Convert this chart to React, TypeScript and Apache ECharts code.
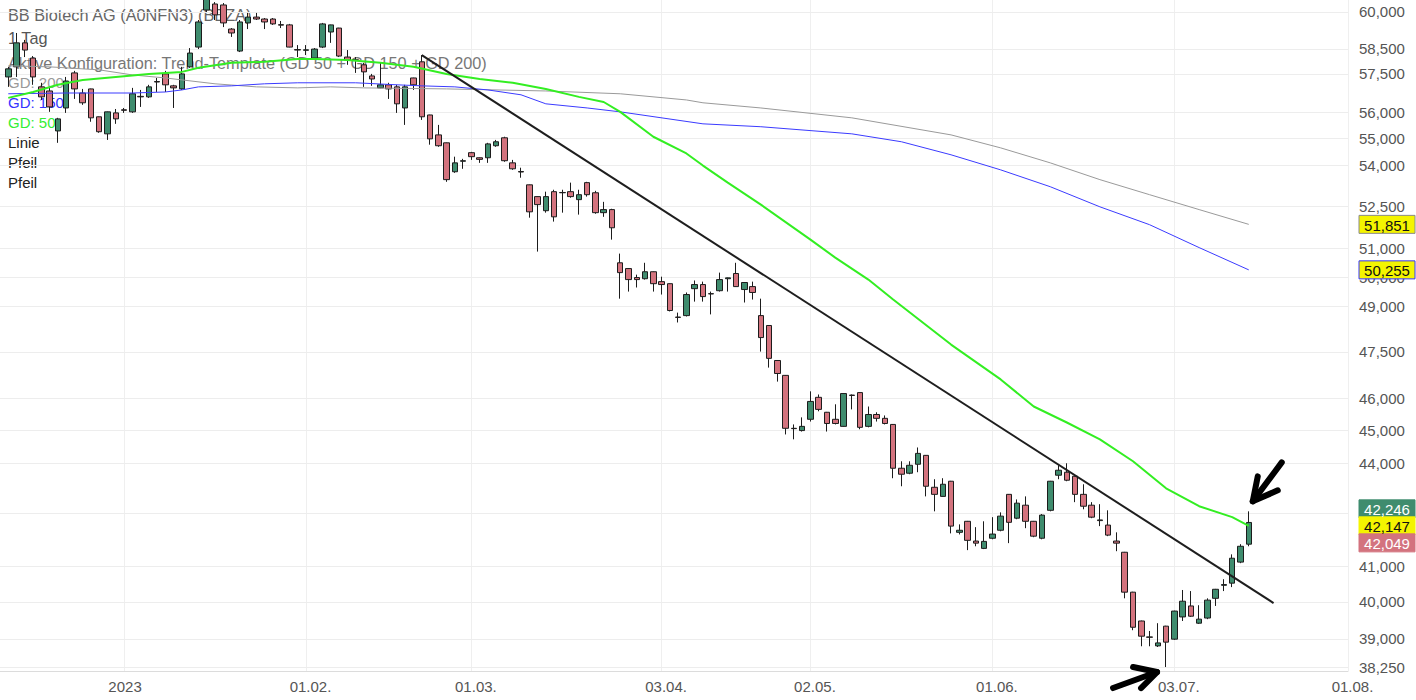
import React, { useEffect, useRef } from "react";
import * as echarts from "echarts";

const FONT = '"Liberation Sans", Arial, Helvetica, sans-serif';

// trading days shown on the x axis
const monthDays: Array<[string, number[]]> = [
  ["2022-12", [9, 12, 13, 14, 15, 16, 19, 20, 21, 22, 23, 27, 28, 29, 30]],
  ["2023-01", [2, 3, 4, 5, 6, 9, 10, 11, 12, 13, 16, 17, 18, 19, 20, 23, 24, 25, 26, 27, 30, 31]],
  ["2023-02", [1, 2, 3, 6, 7, 8, 9, 10, 13, 14, 15, 16, 17, 20, 21, 22, 23, 24, 27, 28]],
  ["2023-03", [1, 2, 3, 6, 7, 8, 9, 10, 13, 14, 15, 16, 17, 20, 21, 22, 23, 24, 27, 28, 29, 30, 31]],
  ["2023-04", [3, 4, 5, 6, 11, 12, 13, 14, 17, 18, 19, 20, 21, 24, 25, 26, 27, 28]],
  ["2023-05", [2, 3, 4, 5, 8, 9, 10, 11, 12, 15, 16, 17, 18, 19, 22, 23, 24, 25, 26, 29, 30, 31]],
  ["2023-06", [1, 2, 5, 6, 7, 8, 9, 12, 13, 14, 15, 16, 19, 20, 21, 22, 23, 26, 27, 28, 29, 30]],
  ["2023-07", [3, 4, 5, 6, 7, 10, 11, 12, 13, 14, 17, 18, 19, 20, 21, 24, 25, 26, 27, 28, 31]],
  ["2023-08", [1]],
];
const categories: string[] = monthDays.flatMap(([m, ds]) =>
  ds.map((d) => `${m}-${d < 10 ? "0" + d : d}`)
);

// candles from 2022-12-12 to 2023-07-14 (one per trading day)
const firstCandle = "2022-12-12";
const open = [
  57380, 57780, 58740, 58130, 56990, 56830, 55290, 56170, 57540, 56750, 56910, 55830, 55180, 55980, 56100, 56020, 56620, 56600, 57200, 57500,
  57030, 56910, 57780, 58570, 60080, 60330, 60290, 59300, 58410, 59550, 59790, 59710, 59710, 59480, 59470, 58470, 58440, 58130, 58570, 59180,
  59340, 58170, 58060, 57860, 57420, 56950, 57070, 56990, 56170, 57340, 57980, 55900, 55140, 54840, 53760, 54150, 54470, 54280, 54280, 54730,
  55030, 54090, 53770, 53280, 52850, 52340, 53030, 52990, 53030, 52740, 53360, 52990, 52270, 52380, 50500, 50300, 49990, 49950, 50190, 49850,
  49780, 48650, 48700, 49610, 49750, 49440, 49540, 49950, 50130, 49580, 49680, 48700, 48370, 47220, 46740, 45070, 45000, 45350, 46040, 45570,
  45350, 45130, 46110, 46190, 45130, 45500, 45380, 45190, 43850, 43700, 43970, 44240, 43280, 43010, 43460, 41960, 42280, 41710, 41500, 41790,
  42020, 43070, 42370, 42750, 42280, 41790, 42600, 43640, 43730, 43610, 43070, 42750, 42320, 42170, 41710, 41390, 40270, 39480, 39050, 38810,
  39340, 38990, 39590, 39890, 39420, 39560, 40100, 40460, 40520, 41110, 41620,
];
const close = [
  57700, 58740, 58450, 57380, 56600, 56210, 55750, 57220, 56910, 56370, 55790, 55260, 56020, 55750, 56080, 56720, 56600, 56990, 57180, 57070,
  56950, 57500, 58330, 59590, 60650, 59880, 59550, 59140, 59590, 59790, 59710, 59590, 59510, 59460, 58570, 58450, 58460, 58490, 59510, 59470,
  58210, 58050, 58040, 57580, 57300, 57070, 56910, 56330, 56990, 57070, 55830, 54990, 54730, 53470, 54090, 54170, 54320, 54220, 54800, 54880,
  54170, 53870, 53750, 52300, 52560, 52850, 52120, 53000, 52850, 52920, 52920, 52270, 52380, 51730, 50160, 49920, 49920, 50190, 49780, 49750,
  48870, 48640, 49410, 49750, 49340, 49430, 49920, 49980, 49680, 49820, 49480, 47970, 47290, 46800, 45070, 45060, 45130, 45910, 45660, 45220,
  45220, 46160, 46100, 45100, 45500, 45380, 45220, 43850, 43670, 43940, 44300, 43310, 43070, 43370, 42140, 42020, 41730, 41650, 41700, 41910,
  42430, 42250, 42810, 42280, 41850, 42460, 43460, 43790, 43490, 43070, 42720, 42400, 42300, 41880, 41650, 40270, 39310, 39070, 39040, 38890,
  38910, 39750, 40020, 39610, 39530, 40050, 40350, 40480, 41220, 41560, 42246,
];
const low = [
  56990, 57380, 58170, 57070, 56480, 56020, 54840, 55980, 56520, 56290, 55640, 55220, 54950, 55560, 55980, 55980, 56210, 56560, 56790, 56790,
  56170, 56870, 57740, 58490, 60000, 59670, 59380, 58980, 58370, 59300, 59670, 59300, 59470, 59340, 58560, 58170, 58250, 58050, 58530, 58740,
  58170, 57860, 57540, 56990, 57030, 56940, 56520, 55980, 55520, 56870, 55710, 54770, 54690, 53390, 53720, 53870, 54200, 54090, 54090, 54690,
  54130, 53830, 53540, 52090, 50890, 52270, 51950, 52270, 52810, 52200, 52850, 52230, 52120, 51310, 49270, 49510, 49650, 49920, 49510, 49410,
  48840, 48470, 48670, 49170, 49170, 48740, 49510, 49510, 49670, 49140, 49240, 47510, 46990, 46540, 44880, 44730, 44970, 45280, 45600, 44970,
  45190, 45120, 45660, 45040, 45100, 45280, 45190, 43550, 43310, 43670, 43730, 43010, 42570, 43000, 41930, 41900, 41450, 41560, 41480, 41760,
  41990, 41650, 42340, 42080, 41820, 41760, 42570, 43520, 43460, 42840, 42630, 42370, 42140, 41850, 41420, 40100, 39230, 38800, 38800, 38780,
  38250, 38970, 39480, 39590, 39400, 39530, 39890, 40300, 40410, 41080, 41560,
];
const high = [
  57780, 59140, 58860, 58210, 57150, 56950, 55790, 57380, 57620, 56910, 56920, 55840, 56030, 56130, 56170, 56950, 56870, 57070, 57340, 57620,
  57070, 57780, 58530, 59670, 60900, 60410, 60370, 59340, 59670, 59960, 59960, 59750, 59750, 59630, 59510, 58650, 58650, 58530, 59550, 59480,
  59350, 58450, 58170, 57940, 57500, 57940, 57150, 57070, 57070, 57350, 58250, 55910, 55520, 54850, 54320, 54240, 54500, 54290, 54840, 54950,
  55070, 54200, 53910, 53290, 52860, 53030, 53100, 53100, 53360, 53100, 53390, 53060, 52660, 52410, 50820, 50310, 50090, 50500, 50200, 50020,
  49790, 48800, 49480, 49890, 49850, 49510, 50160, 49990, 50500, 49830, 49850, 49270, 48380, 47230, 46750, 45190, 45410, 46230, 46130, 45580,
  45820, 46170, 46130, 46200, 45750, 45570, 45470, 45200, 44060, 44060, 44480, 44250, 43520, 43550, 43470, 42190, 42290, 42110, 42280, 42400,
  42540, 43080, 42920, 43010, 42290, 42490, 43470, 43940, 44000, 43620, 43370, 42840, 42780, 42600, 41960, 41400, 40280, 39490, 39210, 39420,
  39350, 39760, 40330, 40300, 39910, 40100, 40360, 40630, 41330, 41620, 42570,
];

// moving averages
const gd50: Array<[string, number]> = [
  ["2022-12-12", 56560], ["2022-12-15", 56790], ["2022-12-20", 57070], ["2022-12-23", 57260], ["2022-12-30", 57380],
  ["2023-01-05", 57500], ["2023-01-11", 57580], ["2023-01-13", 57740], ["2023-01-19", 57940], ["2023-01-25", 57980],
  ["2023-01-31", 58090], ["2023-02-02", 58090], ["2023-02-08", 58050], ["2023-02-14", 57940], ["2023-02-20", 57780],
  ["2023-02-24", 57500], ["2023-03-02", 57300], ["2023-03-08", 57150], ["2023-03-14", 56910], ["2023-03-20", 56600],
  ["2023-03-23", 56400], ["2023-03-27", 56020], ["2023-03-31", 55070], ["2023-04-06", 54440], ["2023-04-12", 53990],
  ["2023-04-17", 53360], ["2023-04-21", 52560], ["2023-05-02", 51310], ["2023-05-05", 50680], ["2023-05-11", 49920],
  ["2023-05-16", 49240], ["2023-05-25", 47740], ["2023-06-02", 46610], ["2023-06-08", 45750], ["2023-06-14", 45250],
  ["2023-06-20", 44730], ["2023-06-26", 44060], ["2023-06-30", 43250], ["2023-07-06", 42720], ["2023-07-12", 42400],
  ["2023-07-14", 42147],
];
const gd150: Array<[string, number]> = [
  ["2022-12-12", 56720], ["2022-12-21", 56750], ["2023-01-03", 56750], ["2023-01-09", 56790], ["2023-01-11", 56870],
  ["2023-01-13", 56990], ["2023-01-19", 57030], ["2023-01-25", 57110], ["2023-01-31", 57150], ["2023-02-09", 57150],
  ["2023-02-16", 57070], ["2023-02-21", 57030], ["2023-02-27", 56990], ["2023-03-03", 56870], ["2023-03-09", 56680],
  ["2023-03-14", 56330], ["2023-03-21", 56170], ["2023-03-27", 56020], ["2023-04-12", 55560], ["2023-04-21", 55450],
  ["2023-05-09", 55180], ["2023-05-17", 54880], ["2023-05-25", 54390], ["2023-06-02", 53830], ["2023-06-12", 53210],
  ["2023-06-20", 52480], ["2023-06-28", 51840], ["2023-07-06", 51030], ["2023-07-14", 50255],
];
const gd200: Array<[string, number]> = [
  ["2022-12-12", 57820], ["2022-12-19", 57780], ["2022-12-28", 57660], ["2023-01-03", 57460], ["2023-01-09", 57340],
  ["2023-01-17", 57110], ["2023-01-24", 56990], ["2023-01-31", 56950], ["2023-02-06", 56990], ["2023-02-10", 56950],
  ["2023-02-24", 56910], ["2023-03-14", 56830], ["2023-03-27", 56720], ["2023-04-06", 56480], ["2023-04-12", 56370],
  ["2023-04-21", 56170], ["2023-05-09", 55790], ["2023-05-25", 55140], ["2023-06-02", 54650], ["2023-06-12", 54090],
  ["2023-06-20", 53470], ["2023-06-28", 52920], ["2023-07-06", 52380], ["2023-07-14", 51851],
];

const xLabelDates = ["2023-01-02", "2023-02-01", "2023-03-01", "2023-04-03", "2023-05-02", "2023-06-01", "2023-07-03", "2023-08-01"];
const yTicks = [38250, 39000, 40000, 41000, 44000, 45000, 46000, 47500, 49000, 50000, 51000, 52500, 54000, 55000, 56000, 57500, 58500, 60000];
const yGridOnly = [42500];
const yMin = 38146;
const yMax = 60496;

const trendStart: [string, number] = ["2023-02-21", 58250];
const trendEnd: [string, number] = ["2023-07-19", 39970];

const tagGD200 = 51851;
const tagGD150 = 50255;
const tagLast = 42246;
const tagGD50 = 42147;
const tagPrev = 42049;

const legendTexts = [
  "BB Biotech AG (A0NFN3) (BBZA)",
  "1 Tag",
  "Aktive Konfiguration: Trend-Template (GD 50 + GD 150 + GD 200)",
  "GD: 200",
  "GD: 150",
  "GD: 50",
  "Linie",
  "Pfeil",
  "Pfeil",
];
const legendColors = ["#666", "#555", "#777", "#999", "#3434ff", "#33ee33", "#222", "#222", "#222"];
const legendY = [15, 38, 63, 82, 102, 122, 142, 162, 182];
const legendSize = [16.3, 16.3, 16.3, 15, 15, 15, 15, 15, 15];

const fmt = (v: number) => v.toLocaleString("en-US");

export default function App() {
  const ref = useRef<HTMLDivElement>(null);

  useEffect(() => {
    const chart = echarts.init(ref.current!, null, { renderer: "svg" });
    const startIdx = categories.indexOf(firstCandle);
    const candles = open.map((o, k) => [categories[startIdx + k], o, close[k], low[k], high[k]]);
    const labelSet = new Set(xLabelDates.map((d) => categories.indexOf(d)));

    chart.setOption({
      animation: false,
      backgroundColor: "#fff",
      grid: { left: 0, right: 68, top: 0, bottom: 29, containLabel: false, outerBoundsMode: "none" },
      xAxis: {
        type: "category",
        data: categories,
        boundaryGap: false,
        axisLine: { show: true, lineStyle: { color: "#dcdcdc" } },
        axisTick: { show: false },
        axisLabel: {
          interval: (i: number) => labelSet.has(i),
          formatter: (v: string) => (v === "2023-01-02" ? "{y|2023}" : `{d|${v.slice(8, 10)}.${v.slice(5, 7)}.}`),
          color: "#555",
          fontSize: 15,
          fontFamily: FONT,
          margin: 8,
          rich: {
            y: { color: "#555", fontSize: 15, fontFamily: FONT, padding: [0, 0, 0, 2] },
            d: { color: "#555", fontSize: 15, fontFamily: FONT, padding: [0, 0, 0, 9] },
          },
        },
        splitLine: {
          show: true,
          interval: (i: number) => labelSet.has(i),
          lineStyle: { color: "#efefef", width: 1 },
        },
      },
      yAxis: {
        type: "log",
        logBase: 10,
        min: yMin,
        max: yMax,
        position: "right",
        axisLine: { show: false },
        axisTick: { show: false },
        axisLabel: { show: false },
        splitLine: { show: false },
      },
      series: [
        {
          type: "line",
          name: "grid",
          data: [],
          z: 1,
          silent: true,
          markLine: {
            z: 1,
            silent: true,
            symbol: ["none", "none"],
            animation: false,
            lineStyle: { color: "#ededed", width: 1, type: "solid" },
            label: {
              show: true,
              position: "end",
              distance: 11,
              formatter: (p: any) => fmt(Number(p.value)),
              color: "#555",
              fontSize: 15,
              fontFamily: FONT,
            },
            emphasis: { disabled: true },
            data: [
              ...yTicks.map((v) => ({ yAxis: v })),
              ...yGridOnly.map((v) => ({ yAxis: v, label: { show: false } })),
            ],
          },
        },
        {
          type: "candlestick",
          data: candles,
          encode: { x: 0, y: [1, 2, 3, 4] },
          barWidth: 6,
          z: 2,
          silent: true,
          clip: true,
          itemStyle: {
            color: "#3f8c6e",
            color0: "#d3737e",
            borderColor: "#1c1c1c",
            borderColor0: "#1c1c1c",
            borderWidth: 1,
          },
          markLine: {
            silent: true,
            symbol: ["none", "none"],
            animation: false,
            label: { show: false },
            lineStyle: { color: "#1e1e1e", width: 2, type: "solid" },
            emphasis: { disabled: true },
            data: [[{ coord: trendStart }, { coord: trendEnd }]],
          },
        },
        {
          type: "line",
          name: "GD 200",
          data: gd200,
          showSymbol: false,
          symbol: "none",
          z: 3,
          silent: true,
          lineStyle: { color: "#9a9a9a", width: 1 },
        },
        {
          type: "line",
          name: "GD 150",
          data: gd150,
          showSymbol: false,
          symbol: "none",
          z: 3,
          silent: true,
          lineStyle: { color: "#3b3bff", width: 1 },
        },
        {
          type: "line",
          name: "GD 50",
          data: gd50,
          showSymbol: false,
          symbol: "none",
          z: 3,
          silent: true,
          lineStyle: { color: "#33ee22", width: 2 },
        },
      ],
    });

    const py = (v: number) => chart.convertToPixel({ yAxisIndex: 0 }, v) as number;
    const pt = (d: string, v: number) => chart.convertToPixel({ gridIndex: 0 }, [d, v]) as number[];

    const tag = (y: number, text: string, fill: string, stroke: string, color: string) => ({
      type: "group",
      x: 1359,
      y,
      z: 20,
      children: [
        { type: "rect", z: 20, shape: { x: 0, y: -9, width: 56, height: 18 }, style: { fill, stroke, lineWidth: 1 } },
        {
          type: "text",
          z: 21,
          x: 28,
          y: 1,
          style: { text, fill: color, font: `15px ${FONT}`, align: "center", verticalAlign: "middle", textAlign: "center", textVerticalAlign: "middle" },
        },
      ],
    });

    const yGD50 = py(tagGD50);
    const a1 = pt("2023-07-14", 42570);
    const a2 = pt("2023-06-30", 38250);
    const arrowStyle = { stroke: "#000", lineWidth: 6, lineCap: "round", lineJoin: "round", fill: null };
    const rel = (a: number[], dx: number, dy: number) => [a[0] + dx, a[1] + dy];

    const legend = legendTexts.map((t, i) => ({
      type: "text",
      x: 8,
      y: legendY[i],
      z: 0,
      silent: true,
      style: {
        text: t,
        fill: legendColors[i],
        font: `${legendSize[i]}px ${FONT}`,
        verticalAlign: "middle",
        textVerticalAlign: "middle",
      },
    }));

    chart.setOption({
      graphic: [
        ...legend,
        tag(py(tagGD200), fmt(tagGD200), "#f4f400", "#8a8a8a", "#111"),
        tag(py(tagGD150), fmt(tagGD150), "#f4f400", "#3434ff", "#111"),
        tag(yGD50 - 17, fmt(tagLast), "#3f8c6e", "#3f8c6e", "#fff"),
        tag(yGD50, fmt(tagGD50), "#f4f400", "#f4f400", "#111"),
        tag(yGD50 + 17, fmt(tagPrev), "#d3737e", "#d3737e", "#fff"),
        { type: "polyline", z: 30, shape: { points: [rel(a1, 33, -49), rel(a1, 4, -10)] }, style: arrowStyle },
        { type: "polyline", z: 30, shape: { points: [rel(a1, 9, -35), rel(a1, 4, -10), rel(a1, 29, -21)] }, style: arrowStyle },
        { type: "polyline", z: 30, shape: { points: [rel(a2, -53, 21), rel(a2, -9, 5)] }, style: arrowStyle },
        { type: "polyline", z: 30, shape: { points: [rel(a2, -33, 0), rel(a2, -9, 5), rel(a2, -25, 21)] }, style: arrowStyle },
      ],
    });

    return () => chart.dispose();
  }, []);

  return (
    <div
      ref={ref}
      style={{ position: "fixed", left: 0, top: 0, width: 1416, height: 700, background: "#fff" }}
    />
  );
}
